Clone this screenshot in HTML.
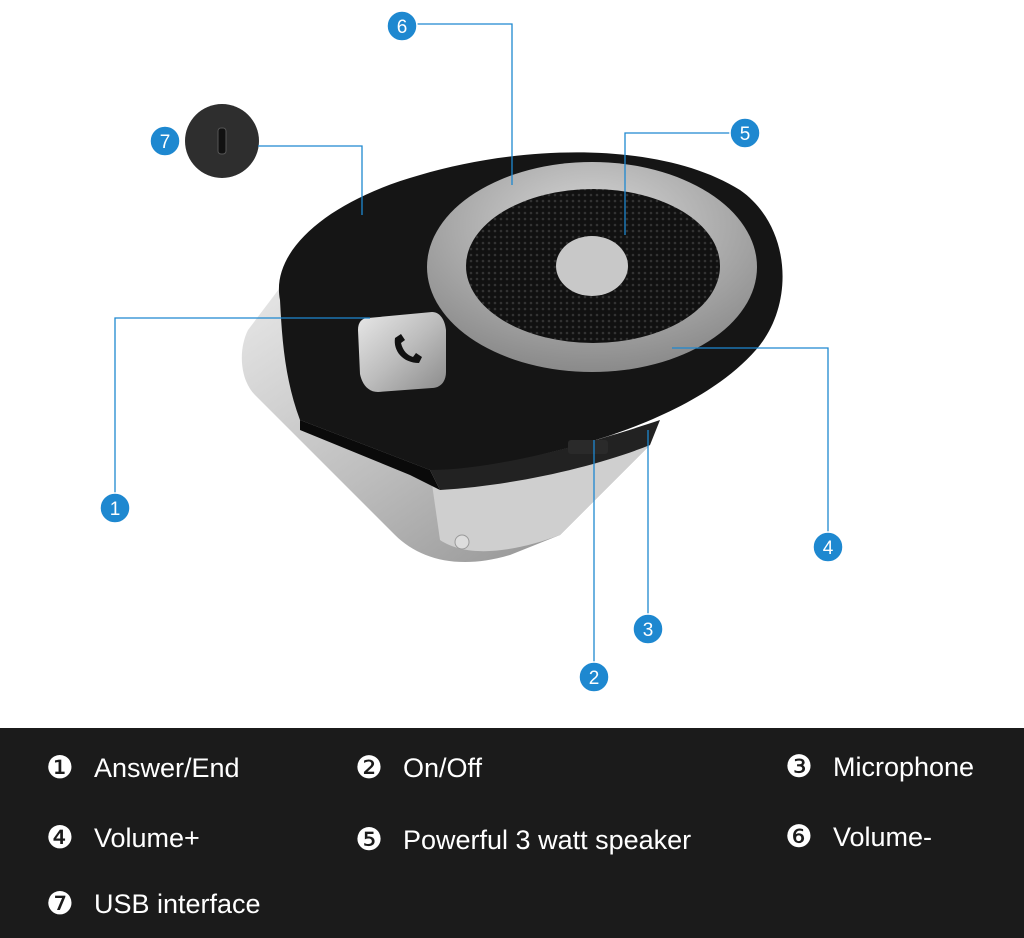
<!DOCTYPE html>
<html><head><meta charset="utf-8"><style>
html,body{margin:0;padding:0;background:#fff;}
body{width:1024px;height:938px;position:relative;overflow:hidden;font-family:"Liberation Sans","DejaVu Sans",sans-serif;}
svg{position:absolute;left:0;top:0;}
.band{position:absolute;left:0;top:728px;width:1024px;height:210px;background:#1b1b1b;}
.l{position:absolute;color:#fff;font-size:27px;white-space:nowrap;line-height:32px;}
.l span{font-family:"DejaVu Sans",sans-serif;font-size:31px;display:inline-block;width:48px;vertical-align:top;}
</style></head><body>
<svg width="1024" height="728" viewBox="0 0 1024 728">
<defs>
<linearGradient id="sil" x1="0" y1="0" x2="1" y2="1">
<stop offset="0" stop-color="#e8e8e8"/><stop offset="0.5" stop-color="#bdbdbd"/><stop offset="1" stop-color="#8a8a8a"/></linearGradient>
<radialGradient id="ring" cx="0.5" cy="0.3" r="0.7"><stop offset="0" stop-color="#d8d8d8"/><stop offset="1" stop-color="#8a8a8a"/></radialGradient>
<pattern id="dots" width="6" height="6" patternUnits="userSpaceOnUse"><rect width="6" height="6" fill="#111"/><circle cx="3" cy="3" r="1.3" fill="#333"/></pattern>
</defs>
<path d="M282,285 L248,330 C238,350 240,380 255,395 L395,535 C420,560 460,570 510,555 L560,535 L650,445 L600,430 L430,470 Z" fill="url(#sil)"/>
<path d="M430,470 L600,430 L650,445 L560,535 C520,550 470,560 440,540 Z" fill="#cfcfcf"/>
<circle cx="462" cy="542" r="7" fill="#ddd" stroke="#999"/>
<path d="M280,300 C270,250 330,200 420,175 C520,145 660,140 740,190 C790,225 795,300 760,345 C720,395 640,430 560,450 C500,465 460,475 430,470 L300,420 C285,380 282,340 280,300 Z" fill="#151515"/>
<path d="M300,420 L430,470 L440,490 L410,475 L300,430 Z" fill="#0a0a0a"/>
<path d="M430,470 C500,470 600,440 660,420 L650,445 C600,465 520,485 440,490 Z" fill="#222"/>
<ellipse cx="592" cy="267" rx="165" ry="105" fill="url(#ring)"/>
<ellipse cx="593" cy="266" rx="127" ry="77" fill="url(#dots)"/>
<ellipse cx="592" cy="266" rx="36" ry="30" fill="#c8c8c8"/>
<path d="M368,318 L432,312 C440,312 445,320 446,330 L446,372 C446,382 440,388 432,388 L378,392 C368,392 362,384 360,374 L358,330 C358,322 362,318 368,318 Z" fill="url(#sil)"/>
<path d="M395,338 l6,-4 l4,6 l-4,3 c2,8 6,12 12,14 l3,-4 l6,4 l-3,6 c-16,0 -26,-12 -24,-25z" fill="#111"/>
<rect x="568" y="440" width="40" height="14" rx="3" fill="#2a2a2a"/>
<circle cx="222" cy="141" r="37" fill="#2e2e2e"/>
<rect x="218" y="128" width="8" height="26" rx="3" fill="#111" stroke="#555"/>
<g stroke="#1e88d0" stroke-width="1.3" fill="none">
<polyline points="416,24 512,24 512,185"/>
<polyline points="258,146 362,146 362,215"/>
<polyline points="731,133 625,133 625,235"/>
<polyline points="115,494 115,318 370,318"/>
<polyline points="828,533 828,348 672,348"/>
<polyline points="648,615 648,430"/>
<polyline points="594,663 594,440"/>
</g>
<g fill="#1e88d0" stroke="#fff" stroke-width="1.5">
<circle cx="402" cy="26" r="15"/><circle cx="165" cy="141" r="15"/><circle cx="745" cy="133" r="15"/>
<circle cx="115" cy="508" r="15"/><circle cx="828" cy="547" r="15"/><circle cx="648" cy="629" r="15"/><circle cx="594" cy="677" r="15"/>
</g>
<g fill="#fff" font-family="Liberation Sans, sans-serif" font-size="19" text-anchor="middle">
<text x="402" y="33">6</text><text x="165" y="148">7</text><text x="745" y="140">5</text>
<text x="115" y="515">1</text><text x="828" y="554">4</text><text x="648" y="636">3</text><text x="594" y="684">2</text>
</g>
</svg>
<div class="band"></div>
<div class="l" style="left:46px;top:752px"><span>❶</span>Answer/End</div>
<div class="l" style="left:355px;top:752px"><span>❷</span>On/Off</div>
<div class="l" style="left:785px;top:751px"><span>❸</span>Microphone</div>
<div class="l" style="left:46px;top:822px"><span>❹</span>Volume+</div>
<div class="l" style="left:355px;top:824px"><span>❺</span>Powerful 3 watt speaker</div>
<div class="l" style="left:785px;top:821px"><span>❻</span>Volume-</div>
<div class="l" style="left:46px;top:888px"><span>❼</span>USB interface</div>
</body></html>
